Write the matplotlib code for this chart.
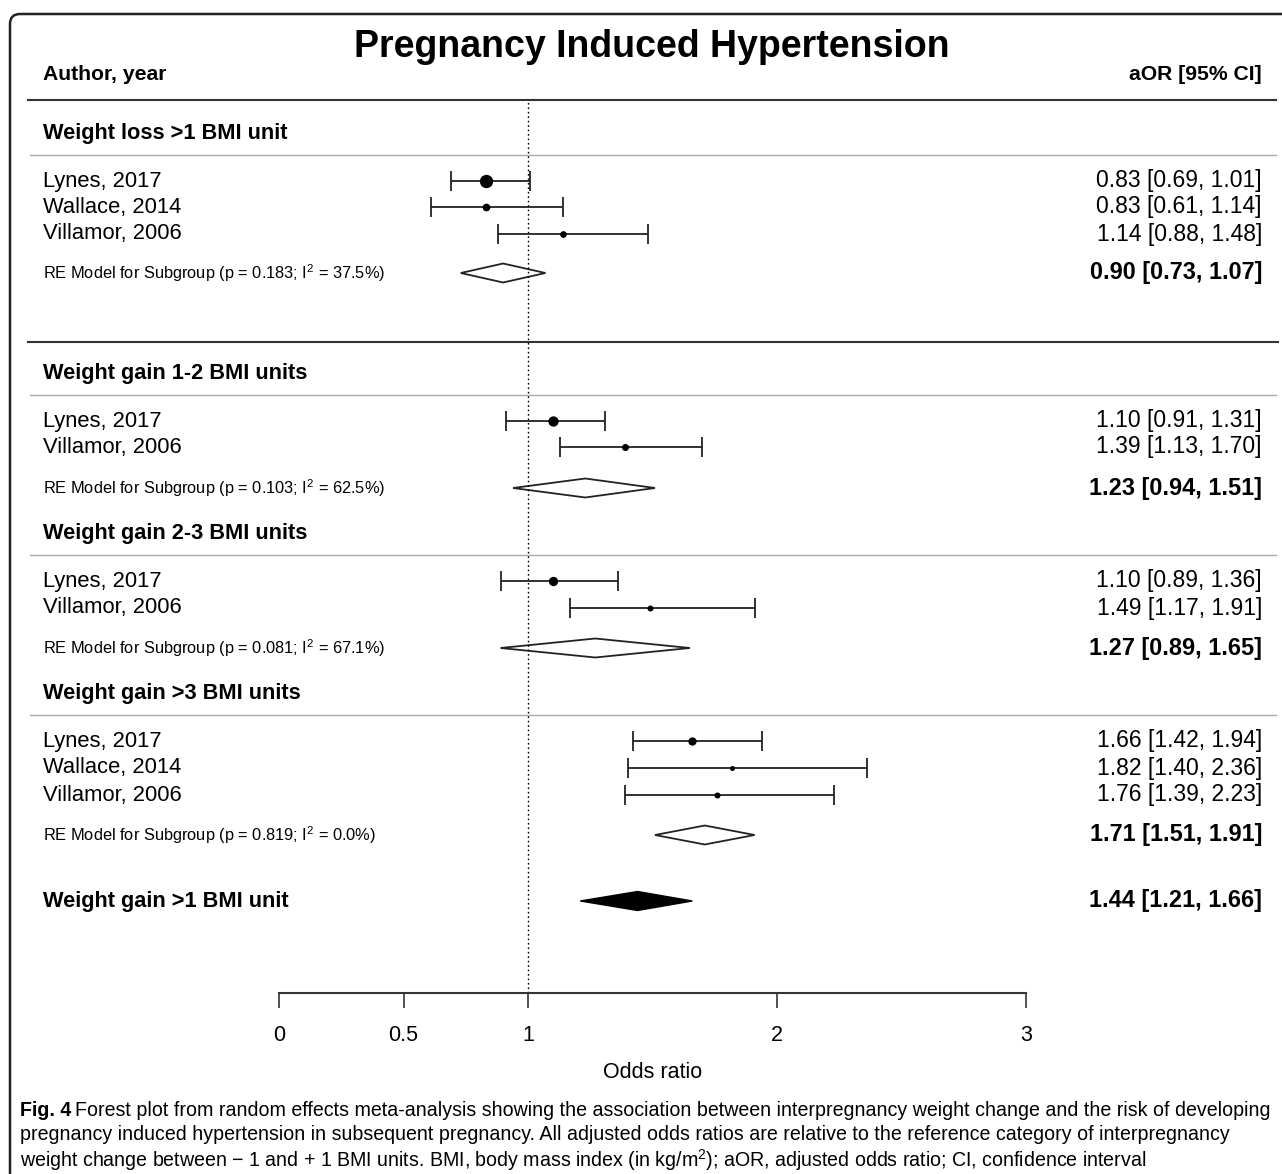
import numpy as np
import matplotlib.pyplot as plt
from matplotlib.patches import FancyBboxPatch, Polygon

plt.rcParams['font.family'] = ['Liberation Sans', 'DejaVu Sans']
plt.rcParams['mathtext.fontset'] = 'custom'
plt.rcParams['mathtext.rm'] = 'Liberation Sans'
plt.rcParams['mathtext.it'] = 'Liberation Sans:italic'

# ---- data ----
group_names = ["Weight loss >1 BMI unit", "Weight gain 1-2 BMI units",
               "Weight gain 2-3 BMI units", "Weight gain >3 BMI units"]
study_names = ["Lynes, 2017", "Wallace, 2014", "Villamor, 2006",
               "Lynes, 2017", "Villamor, 2006",
               "Lynes, 2017", "Villamor, 2006",
               "Lynes, 2017", "Wallace, 2014", "Villamor, 2006"]
study_or = [0.83, 0.83, 1.14, 1.10, 1.39, 1.10, 1.49, 1.66, 1.82, 1.76]
study_lo = [0.69, 0.61, 0.88, 0.91, 1.13, 0.89, 1.17, 1.42, 1.40, 1.39]
study_hi = [1.01, 1.14, 1.48, 1.31, 1.70, 1.36, 1.91, 1.94, 2.36, 2.23]
study_weight = [13.3, 7.7, 6.7, 10.3, 7.0, 9.3, 6.0, 8.3, 5.0, 6.0]  # marker diameter, px

re_or = [0.90, 1.23, 1.27, 1.71]
re_lo = [0.73, 0.94, 0.89, 1.51]
re_hi = [1.07, 1.51, 1.65, 1.91]
re_p = ["0.183", "0.103", "0.081", "0.819"]
re_i2 = ["37.5", "62.5", "67.1", "0.0"]

overall_label = "Weight gain >1 BMI unit"
overall_or, overall_lo, overall_hi = 1.44, 1.21, 1.66

xticks = [0, 0.5, 1, 2, 3]

# ---- layout (pixel rows from top) ----
W, H = 1282, 1174
study_y = [181, 207, 234, 421, 447, 581, 608, 741, 768, 795]
re_y = [273, 488, 648, 835]
head_y = [134, 374, 534, 694]
head_line_y = [155, 395, 555, 715]
overall_y = 901
axis_y, top_y = 993, 100
x0_px, x3_px = 279, 1026

fig = plt.figure(figsize=(W / 100, H / 100), dpi=100)

# page axes in pixel coordinates
page = fig.add_axes([0, 0, 1, 1])
page.set_xlim(0, W)
page.set_ylim(H, 0)
page.axis("off")

frame = FancyBboxPatch((10, 14), W + 40, H + 40, boxstyle="round,pad=0,rounding_size=10",
                       fill=False, lw=1.8, ec="#222222")
page.add_patch(frame)

page.text(652, 47, "Pregnancy Induced Hypertension", fontsize=27, fontweight="bold",
          ha="center", va="center")
page.text(43, 74, "Author, year", fontsize=15.2, fontweight="bold", va="center")
page.text(1262, 74, "aOR [95% CI]", fontsize=15.2, fontweight="bold", va="center", ha="right")
page.plot([28, 1276], [100, 100], color="#333333", lw=1.5)
page.plot([28, 1278], [342, 342], color="#333333", lw=1.5)
for y in head_line_y:
    page.plot([30, 1276], [y, y], color="#aaaaaa", lw=1)
for name, y in zip(group_names, head_y):
    page.text(43, y, name, fontsize=15.7, fontweight="bold", va="center")
for name, y, o, lo, hi in zip(study_names, study_y, study_or, study_lo, study_hi):
    page.text(43, y, name, fontsize=15.8, va="center")
    page.text(1262, y, f"{o:.2f} [{lo:.2f}, {hi:.2f}]", fontsize=16.5, va="center", ha="right")
for y, o, lo, hi, p, i2 in zip(re_y, re_or, re_lo, re_hi, re_p, re_i2):
    page.text(43, y, f"RE Model for Subgroup (p = {p}; I$^2$ = {i2}%)", fontsize=11.8, va="center")
    page.text(1262, y, f"{o:.2f} [{lo:.2f}, {hi:.2f}]", fontsize=16.9, fontweight="bold",
              va="center", ha="right")
page.text(43, overall_y, overall_label, fontsize=15.7, fontweight="bold", va="center")
page.text(1262, overall_y, f"{overall_or:.2f} [{overall_lo:.2f}, {overall_hi:.2f}]",
          fontsize=16.9, fontweight="bold", va="center", ha="right")

# caption, sized so the first line spans the frame like the reference
cap_lines = [
    "Forest plot from random effects meta-analysis showing the association between interpregnancy weight change and the risk of developing",
    "pregnancy induced hypertension in subsequent pregnancy. All adjusted odds ratios are relative to the reference category of interpregnancy",
    "weight change between \u2212 1 and + 1 BMI units. BMI, body mass index (in kg/m$^2$); aOR, adjusted odds ratio; CI, confidence interval",
]
fs0 = 14
t_fig = page.text(20, 1110, "Fig. 4", fontsize=fs0, fontweight="bold", va="center")
t_l1 = page.text(0, 1110, cap_lines[0], fontsize=fs0, va="center")
fig.canvas.draw()
w_tot = t_fig.get_window_extent().width + 5 + t_l1.get_window_extent().width
fs = fs0 * 1254 / w_tot
t_fig.set_fontsize(fs)
t_l1.set_fontsize(fs)
fig.canvas.draw()
t_l1.set_x(20 + t_fig.get_window_extent().width + 4)
page.text(20, 1135, cap_lines[1], fontsize=fs, va="center")
page.text(20, 1160, cap_lines[2], fontsize=fs, va="center")

# forest axes: x in odds ratio, y in pixel rows
ax = fig.add_axes([x0_px / W, (H - axis_y) / H, (x3_px - x0_px) / W, (axis_y - top_y) / H])
ax.set_xlim(0, 3)
ax.set_ylim(axis_y, top_y)
ax.patch.set_alpha(0)
for s in ["top", "left", "right"]:
    ax.spines[s].set_visible(False)
ax.spines["bottom"].set_linewidth(1.5)
ax.spines["bottom"].set_color("#333333")
ax.set_yticks([])
ax.set_xticks(xticks)
ax.set_xticklabels(["0", "0.5", "1", "2", "3"])
ax.tick_params(axis="x", direction="out", length=10.8, width=1.2, pad=12, labelsize=15.5,
               color="#333333")
ax.set_xlabel("Odds ratio", fontsize=15.5, labelpad=12)

ax.axvline(1, color="black", lw=1, ls=(0, (1.2, 2)), clip_on=False)

for y, o, lo, hi, w in zip(study_y, study_or, study_lo, study_hi, study_weight):
    ax.errorbar([o], [y], xerr=[[o - lo], [hi - o]], fmt="none", ecolor="#222222",
                elinewidth=1.3, capsize=7, capthick=1.3)
    ax.plot([o], [y], "o", color="black", ms=w * 0.72, mew=0)

dh = 9.5
for y, o, lo, hi in zip(re_y, re_or, re_lo, re_hi):
    ax.add_patch(Polygon([[lo, y], [o, y - dh], [hi, y], [o, y + dh]], closed=True,
                         fc="white", ec="#222222", lw=1.3))
ax.add_patch(Polygon([[overall_lo, overall_y], [overall_or, overall_y - dh],
                      [overall_hi, overall_y], [overall_or, overall_y + dh]],
                     closed=True, fc="black", ec="black", lw=1))

fig.savefig("out.png", dpi=100)
